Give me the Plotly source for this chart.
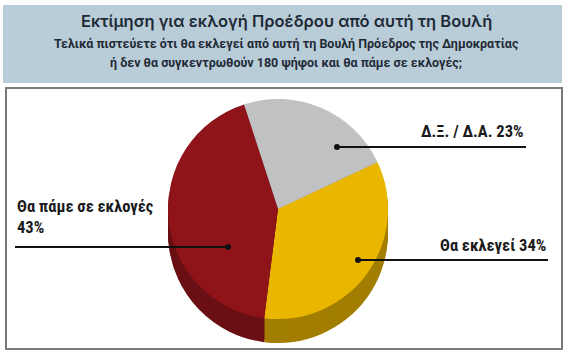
import plotly.graph_objects as go

W, H = 570, 354

# Data
categories = ["Δ.Ξ. / Δ.Α.", "Θα εκλεγεί", "Θα πάμε σε εκλογές"]
values = [23, 34, 43]
label_texts = ["Δ.Ξ. / Δ.Α. 23%", "Θα εκλεγεί 34%", "Θα πάμε σε εκλογές<br>43%"]

title = "Εκτίμηση για εκλογή Προέδρου από αυτή τη Βουλή"
subtitle1 = "Τελικά πιστεύετε ότι θα εκλεγεί από αυτή τη Βουλή Πρόεδρος της Δημοκρατίας"
subtitle2 = "ή δεν θα συγκεντρωθούν 180 ψήφοι και θα πάμε σε εκλογές;"

# Styles
top_colors = ["#c0c1c3", "#e9b700", "#8e141a"]
side_colors = ["#8f9092", "#a27e00", "#6a1014"]
cx, cy, R = 278, 209, 110
depth = 24
rotation = -18

def px(x):
    return x / W

def py(y):
    return 1 - y / H

fig = go.Figure()

def add_pie(shift, colors):
    fig.add_trace(go.Pie(
        labels=categories, values=values, sort=False, direction="clockwise",
        rotation=rotation,
        marker=dict(colors=colors, line=dict(width=0)),
        textinfo="none", hoverinfo="skip", showlegend=False,
        domain=dict(x=[px(cx - R), px(cx + R)],
                    y=[py(cy + shift + R), py(cy + shift - R)]),
    ))

for d in range(depth, 0, -2):
    add_pie(d, side_colors)
add_pie(0, top_colors)

shapes = []
# header box
shapes.append(dict(type="rect", xref="paper", yref="paper", x0=px(3), x1=px(562),
                   y0=py(83), y1=py(5), fillcolor="#b9cdd9", line=dict(width=0), layer="below"))
# border box
shapes.append(dict(type="rect", xref="paper", yref="paper", x0=px(6), x1=px(562),
                   y0=py(349), y1=py(88), fillcolor="rgba(0,0,0,0)",
                   line=dict(color="#7a7a7a", width=2), layer="below"))

# leader lines: (dot x, dot y, line end x, label anchor, text x, text baseline y)
leaders = [
    (337, 147, 526, "right", 526, 139),
    (358, 260, 548, "right", 548, 253),
    (228, 247, 15, "left", 15, 235),
]
lab_font = dict(family="Liberation Sans Narrow, Roboto Condensed, Arial Narrow, Roboto, sans-serif",
                size=16.5, color="#1a1a1a")
annotations = []
for (dx, dy, ex, anchor, tx, ty), txt in zip(leaders, label_texts):
    shapes.append(dict(type="line", xref="paper", yref="paper", x0=px(dx), x1=px(ex),
                       y0=py(dy), y1=py(dy), line=dict(color="#111111", width=2), layer="above"))
    shapes.append(dict(type="circle", xref="paper", yref="paper", x0=px(dx - 3), x1=px(dx + 3),
                       y0=py(dy + 3), y1=py(dy - 3), fillcolor="#111111",
                       line=dict(width=0), layer="above"))
    annotations.append(dict(text="<b>" + txt + "</b>", xref="paper", yref="paper",
                            x=px(tx), y=py(ty + 4), xanchor=anchor, yanchor="bottom",
                            align=anchor, showarrow=False, font=lab_font))

annotations.append(dict(text=title, xref="paper", yref="paper", x=px(286), y=py(21),
                        xanchor="center", yanchor="middle", showarrow=False,
                        font=dict(family="Inter, Open Sans, sans-serif", size=16.5,
                                  color="#1f2a36", weight=600)))
annotations.append(dict(text="<b>" + subtitle1 + "</b>", xref="paper", yref="paper", x=px(286), y=py(44),
                        xanchor="center", yanchor="middle", showarrow=False,
                        font=dict(family="Roboto, sans-serif", size=12.5, color="#1f2a36")))
annotations.append(dict(text="<b>" + subtitle2 + "</b>", xref="paper", yref="paper", x=px(286), y=py(62),
                        xanchor="center", yanchor="middle", showarrow=False,
                        font=dict(family="Roboto, sans-serif", size=12.5, color="#1f2a36")))

fig.update_layout(width=W, height=H, margin=dict(l=0, r=0, t=0, b=0),
                  paper_bgcolor="white", plot_bgcolor="white",
                  shapes=shapes, annotations=annotations)
fig.write_html("out.html")
